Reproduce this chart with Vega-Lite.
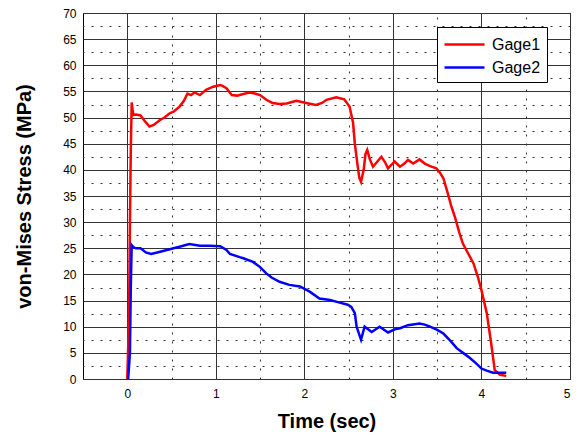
{
  "$schema": "https://vega.github.io/schema/vega-lite/v6.json",
  "width": 487,
  "height": 366,
  "autosize": {"type": "none"},
  "padding": {"left": 83, "top": 13, "right": 16, "bottom": 57},
  "background": "white",
  "config": {
    "view": {"stroke": "black", "strokeWidth": 1},
    "font": "Liberation Sans"
  },
  "data": {
    "values": [
      {"gage": "Gage1", "t": 0.00, "s": 0},
      {"gage": "Gage1", "t": 0.02, "s": 12},
      {"gage": "Gage1", "t": 0.03, "s": 30},
      {"gage": "Gage1", "t": 0.04, "s": 44},
      {"gage": "Gage1", "t": 0.05, "s": 52.9},
      {"gage": "Gage1", "t": 0.06, "s": 51.5},
      {"gage": "Gage1", "t": 0.07, "s": 50.5},
      {"gage": "Gage1", "t": 0.10, "s": 50.6},
      {"gage": "Gage1", "t": 0.15, "s": 50.4},
      {"gage": "Gage1", "t": 0.19, "s": 49.5},
      {"gage": "Gage1", "t": 0.25, "s": 48.3},
      {"gage": "Gage1", "t": 0.30, "s": 48.6},
      {"gage": "Gage1", "t": 0.365, "s": 49.5},
      {"gage": "Gage1", "t": 0.42, "s": 50.0},
      {"gage": "Gage1", "t": 0.48, "s": 50.8},
      {"gage": "Gage1", "t": 0.53, "s": 51.2},
      {"gage": "Gage1", "t": 0.59, "s": 52.1},
      {"gage": "Gage1", "t": 0.64, "s": 53.2},
      {"gage": "Gage1", "t": 0.68, "s": 54.6},
      {"gage": "Gage1", "t": 0.72, "s": 54.3},
      {"gage": "Gage1", "t": 0.76, "s": 54.8},
      {"gage": "Gage1", "t": 0.82, "s": 54.3},
      {"gage": "Gage1", "t": 0.89, "s": 55.3},
      {"gage": "Gage1", "t": 0.97, "s": 55.9},
      {"gage": "Gage1", "t": 1.05, "s": 56.2},
      {"gage": "Gage1", "t": 1.08, "s": 56.0},
      {"gage": "Gage1", "t": 1.12, "s": 55.6},
      {"gage": "Gage1", "t": 1.18, "s": 54.3},
      {"gage": "Gage1", "t": 1.24, "s": 54.2},
      {"gage": "Gage1", "t": 1.31, "s": 54.5},
      {"gage": "Gage1", "t": 1.38, "s": 54.8},
      {"gage": "Gage1", "t": 1.44, "s": 54.6},
      {"gage": "Gage1", "t": 1.50, "s": 54.3},
      {"gage": "Gage1", "t": 1.57, "s": 53.4},
      {"gage": "Gage1", "t": 1.64, "s": 52.8},
      {"gage": "Gage1", "t": 1.72, "s": 52.6},
      {"gage": "Gage1", "t": 1.80, "s": 52.7},
      {"gage": "Gage1", "t": 1.91, "s": 53.2},
      {"gage": "Gage1", "t": 2.02, "s": 52.8},
      {"gage": "Gage1", "t": 2.13, "s": 52.4},
      {"gage": "Gage1", "t": 2.20, "s": 52.8},
      {"gage": "Gage1", "t": 2.25, "s": 53.4},
      {"gage": "Gage1", "t": 2.36, "s": 53.9},
      {"gage": "Gage1", "t": 2.45, "s": 53.5},
      {"gage": "Gage1", "t": 2.51, "s": 52.1},
      {"gage": "Gage1", "t": 2.55, "s": 49.0},
      {"gage": "Gage1", "t": 2.57, "s": 45.0},
      {"gage": "Gage1", "t": 2.60, "s": 41.0},
      {"gage": "Gage1", "t": 2.62, "s": 38.5},
      {"gage": "Gage1", "t": 2.64, "s": 37.7},
      {"gage": "Gage1", "t": 2.67, "s": 40.0},
      {"gage": "Gage1", "t": 2.69, "s": 43.0},
      {"gage": "Gage1", "t": 2.71, "s": 43.8},
      {"gage": "Gage1", "t": 2.74, "s": 42.0},
      {"gage": "Gage1", "t": 2.775, "s": 40.6},
      {"gage": "Gage1", "t": 2.82, "s": 41.5},
      {"gage": "Gage1", "t": 2.87, "s": 42.5},
      {"gage": "Gage1", "t": 2.91, "s": 41.5},
      {"gage": "Gage1", "t": 2.945, "s": 40.3},
      {"gage": "Gage1", "t": 3.02, "s": 41.6},
      {"gage": "Gage1", "t": 3.08, "s": 40.6},
      {"gage": "Gage1", "t": 3.13, "s": 41.2},
      {"gage": "Gage1", "t": 3.17, "s": 41.9},
      {"gage": "Gage1", "t": 3.23, "s": 41.2},
      {"gage": "Gage1", "t": 3.30, "s": 42.0},
      {"gage": "Gage1", "t": 3.36, "s": 41.2},
      {"gage": "Gage1", "t": 3.42, "s": 40.7},
      {"gage": "Gage1", "t": 3.49, "s": 40.3},
      {"gage": "Gage1", "t": 3.53, "s": 39.5},
      {"gage": "Gage1", "t": 3.57, "s": 38.4},
      {"gage": "Gage1", "t": 3.62, "s": 35.5},
      {"gage": "Gage1", "t": 3.66, "s": 33.0},
      {"gage": "Gage1", "t": 3.70, "s": 31.0},
      {"gage": "Gage1", "t": 3.75, "s": 28.0},
      {"gage": "Gage1", "t": 3.79, "s": 25.9},
      {"gage": "Gage1", "t": 3.85, "s": 24.0},
      {"gage": "Gage1", "t": 3.91, "s": 22.1},
      {"gage": "Gage1", "t": 3.96, "s": 19.5},
      {"gage": "Gage1", "t": 4.00, "s": 17.0},
      {"gage": "Gage1", "t": 4.06, "s": 12.6},
      {"gage": "Gage1", "t": 4.11, "s": 6.8},
      {"gage": "Gage1", "t": 4.15, "s": 1.7},
      {"gage": "Gage1", "t": 4.21, "s": 0.8},
      {"gage": "Gage1", "t": 4.28, "s": 0.6},
      {"gage": "Gage2", "t": 0.01, "s": 0},
      {"gage": "Gage2", "t": 0.03, "s": 5},
      {"gage": "Gage2", "t": 0.04, "s": 18},
      {"gage": "Gage2", "t": 0.05, "s": 25.6},
      {"gage": "Gage2", "t": 0.07, "s": 25.2},
      {"gage": "Gage2", "t": 0.095, "s": 25.0},
      {"gage": "Gage2", "t": 0.15, "s": 25.0},
      {"gage": "Gage2", "t": 0.21, "s": 24.2},
      {"gage": "Gage2", "t": 0.27, "s": 23.9},
      {"gage": "Gage2", "t": 0.36, "s": 24.3},
      {"gage": "Gage2", "t": 0.48, "s": 24.8},
      {"gage": "Gage2", "t": 0.59, "s": 25.3},
      {"gage": "Gage2", "t": 0.70, "s": 25.8},
      {"gage": "Gage2", "t": 0.82, "s": 25.5},
      {"gage": "Gage2", "t": 0.93, "s": 25.5},
      {"gage": "Gage2", "t": 1.05, "s": 25.4},
      {"gage": "Gage2", "t": 1.12, "s": 24.7},
      {"gage": "Gage2", "t": 1.16, "s": 23.9},
      {"gage": "Gage2", "t": 1.27, "s": 23.3},
      {"gage": "Gage2", "t": 1.31, "s": 23.1},
      {"gage": "Gage2", "t": 1.42, "s": 22.4},
      {"gage": "Gage2", "t": 1.50, "s": 21.4},
      {"gage": "Gage2", "t": 1.57, "s": 20.2},
      {"gage": "Gage2", "t": 1.63, "s": 19.4},
      {"gage": "Gage2", "t": 1.72, "s": 18.6},
      {"gage": "Gage2", "t": 1.83, "s": 18.0},
      {"gage": "Gage2", "t": 1.95, "s": 17.7},
      {"gage": "Gage2", "t": 2.06, "s": 16.7},
      {"gage": "Gage2", "t": 2.17, "s": 15.4},
      {"gage": "Gage2", "t": 2.29, "s": 15.1},
      {"gage": "Gage2", "t": 2.40, "s": 14.6},
      {"gage": "Gage2", "t": 2.49, "s": 14.2},
      {"gage": "Gage2", "t": 2.53, "s": 13.8},
      {"gage": "Gage2", "t": 2.57, "s": 12.6},
      {"gage": "Gage2", "t": 2.59, "s": 10.0},
      {"gage": "Gage2", "t": 2.64, "s": 7.5},
      {"gage": "Gage2", "t": 2.68, "s": 10.0},
      {"gage": "Gage2", "t": 2.72, "s": 9.5},
      {"gage": "Gage2", "t": 2.76, "s": 9.0},
      {"gage": "Gage2", "t": 2.85, "s": 10.0},
      {"gage": "Gage2", "t": 2.945, "s": 8.9},
      {"gage": "Gage2", "t": 3.02, "s": 9.5},
      {"gage": "Gage2", "t": 3.08, "s": 9.7},
      {"gage": "Gage2", "t": 3.17, "s": 10.3},
      {"gage": "Gage2", "t": 3.30, "s": 10.6},
      {"gage": "Gage2", "t": 3.36, "s": 10.4},
      {"gage": "Gage2", "t": 3.42, "s": 10.0},
      {"gage": "Gage2", "t": 3.50, "s": 9.4},
      {"gage": "Gage2", "t": 3.57, "s": 8.7},
      {"gage": "Gage2", "t": 3.65, "s": 7.3},
      {"gage": "Gage2", "t": 3.72, "s": 5.9},
      {"gage": "Gage2", "t": 3.80, "s": 4.9},
      {"gage": "Gage2", "t": 3.87, "s": 4.0},
      {"gage": "Gage2", "t": 3.94, "s": 3.0},
      {"gage": "Gage2", "t": 4.00, "s": 2.0},
      {"gage": "Gage2", "t": 4.06, "s": 1.6},
      {"gage": "Gage2", "t": 4.13, "s": 1.2},
      {"gage": "Gage2", "t": 4.28, "s": 1.2}
    ]
  },
  "layer": [
    {
      "mark": {"type": "point", "opacity": 0},
      "encoding": {
        "x": {
          "field": "t", "type": "quantitative",
          "scale": {"domain": [-0.5, 5], "nice": false, "zero": false},
          "axis": {"orient": "top", "values": [0.5, 1.5, 2.5, 3.5, 4.5], "grid": true, "gridDash": [2, 7], "gridColor": "#333", "gridOpacity": 1, "labels": false, "ticks": false, "domain": false, "title": null}
        },
        "y": {
          "field": "s", "type": "quantitative",
          "scale": {"domain": [0, 70], "nice": false},
          "axis": {"orient": "right", "values": [2.5, 7.5, 12.5, 17.5, 22.5, 27.5, 32.5, 37.5, 42.5, 47.5, 52.5, 57.5, 62.5, 67.5], "grid": true, "gridDash": [2, 7], "gridColor": "#333", "gridOpacity": 1, "labels": false, "ticks": false, "domain": false, "title": null}
        }
      }
    },
    {
      "mark": {"type": "line", "strokeWidth": 2.5, "interpolate": "linear"},
      "encoding": {
        "x": {
          "field": "t", "type": "quantitative",
          "scale": {"domain": [-0.5, 5], "nice": false, "zero": false},
          "axis": {"orient": "bottom", "values": [0, 1, 2, 3, 4, 5], "grid": true, "gridColor": "#333", "gridOpacity": 1, "gridWidth": 1, "ticks": false, "domain": false, "labelPadding": 9, "labelFontSize": 12, "labelColor": "black", "title": "Time (sec)", "titleFontSize": 20, "titleFontWeight": "bold", "titleColor": "black", "titlePadding": 12}
        },
        "y": {
          "field": "s", "type": "quantitative",
          "scale": {"domain": [0, 70], "nice": false},
          "axis": {"orient": "left", "values": [0, 5, 10, 15, 20, 25, 30, 35, 40, 45, 50, 55, 60, 65, 70], "grid": true, "gridColor": "#333", "gridOpacity": 1, "gridWidth": 1, "ticks": false, "domain": false, "labelPadding": 7, "labelFontSize": 12, "labelColor": "black", "title": "von-Mises Stress (MPa)", "titleFontSize": 20, "titleFontWeight": "bold", "titleColor": "black", "titlePadding": 28}
        },
        "color": {
          "field": "gage", "type": "nominal",
          "scale": {"domain": ["Gage1", "Gage2"], "range": ["#ff0000", "#0000ff"]},
          "legend": {"title": null, "orient": "none", "legendX": 354, "legendY": 14, "symbolType": "M-1,0H3", "symbolSize": 400, "symbolStrokeWidth": 2.5, "symbolFillColor": "transparent", "labelFontSize": 16, "labelColor": "black", "labelOffset": 26, "rowPadding": 3, "padding": 6, "strokeColor": "black", "fillColor": "white", "cornerRadius": 0}
        },
        "order": {"field": "t", "type": "quantitative"}
      }
    }
  ],
  "resolve": {"axis": {"x": "independent", "y": "independent"}}
}
